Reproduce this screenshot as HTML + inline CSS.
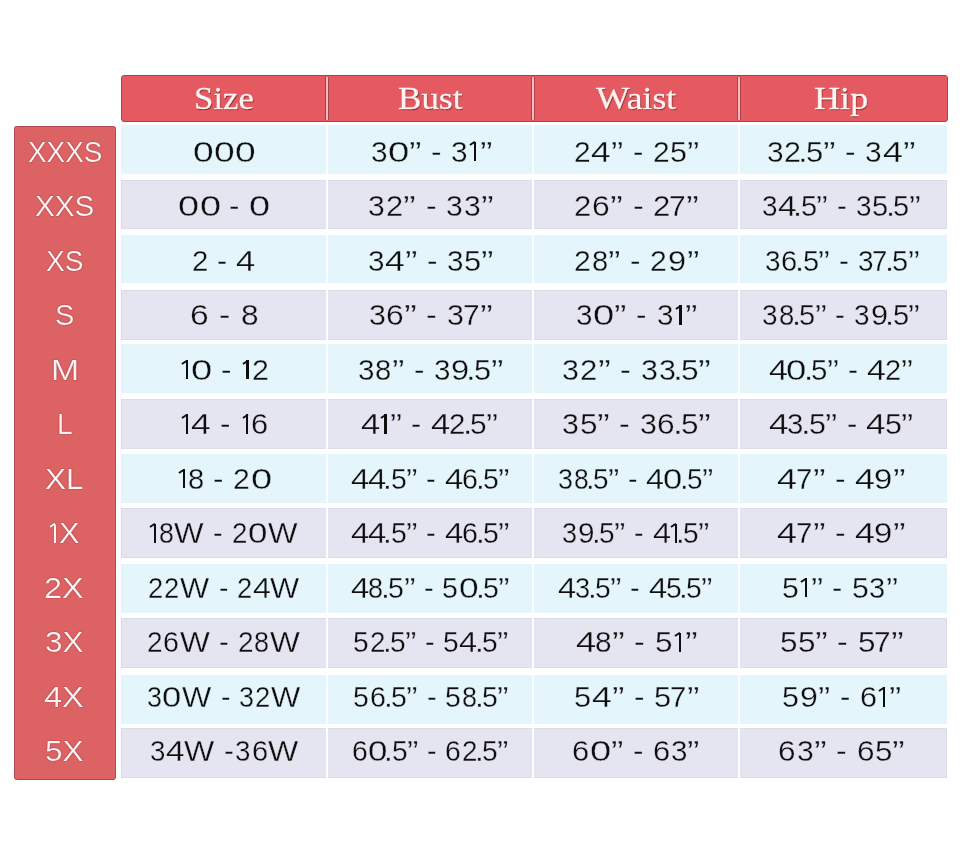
<!DOCTYPE html><html><head><meta charset="utf-8"><style>
*{margin:0;padding:0;box-sizing:border-box}
html,body{width:960px;height:864px;background:#fff;overflow:hidden}
body{position:relative;font-family:"Liberation Sans",sans-serif}
.hdr{position:absolute;left:120.8px;top:74.8px;width:826.9px;height:46.9px;background:#e45a60;border:1px solid #a8434a;border-radius:3px}
.dv{position:absolute;top:76.5px;height:43px;width:3.6px;background:#ffbcbd;border-left:1.2px solid #ad4148;border-right:1.2px solid #ad4148}
.lc{position:absolute;left:14px;top:125.6px;width:101.5px;height:654px;background:#dd6264;border:1px solid #a84a50;border-left-width:1.5px;border-radius:2.5px}
.row{position:absolute;left:120.6px;width:826.6px}
.b{background:#e5f5fc}
.gb{-webkit-text-stroke:0.3px #e5f5fc}
.gv{-webkit-text-stroke:0.3px #e5e4f1}
.v{background:#e5e4f1;box-shadow:inset 0 0 0 1px #dcdbe8}
.cd{position:absolute;width:2px;background:#fbfdff}
.x{position:absolute;white-space:nowrap;line-height:60px;height:60px;transform-origin:0 0}
.g{position:absolute;line-height:60px;height:60px;transform-origin:0 0;font-size:29.5px;color:#0e0e0e}
.o{position:absolute}
.s{position:absolute;white-space:pre;line-height:60px;height:60px;font-size:29.5px;color:#0e0e0e}
.s i{display:inline-block;font-style:normal;transform-origin:0 0;position:relative}
.s i.sp{width:0}
.s i.one{color:transparent;-webkit-text-stroke:0}
.one::before{content:"";position:absolute;left:4.25px;top:20.3px;width:2.3px;height:19.4px;background:#0e0e0e}
.one::after{content:"";position:absolute;left:0.7px;top:22.95px;width:5.9px;height:2.3px;background:#0e0e0e;transform-origin:0 50%;transform:rotate(-33.4deg)}
.lt .one::before,.lt .one::after{background:#fff5f5;height:2.1px;box-shadow:0 0 1px #8a2a30}
.lt .one::before{width:2.1px;height:19.4px}
.lt{font-size:29.5px;color:#fff5f5;-webkit-text-stroke:0.2px #dd6264;text-shadow:0 0 1px #8a2a30,0 0 1px #8a2a30}
.ht{font-family:"Liberation Serif",serif;font-size:31px;color:#fff3f3;-webkit-text-stroke:0.3px #fff3f3;text-shadow:0.6px 0.6px 0.9px #7a2026}
#w{position:absolute;left:0;top:0;width:960px;height:864px;will-change:transform}
</style></head><body><div id="w">
<div class="hdr"></div>
<div class="dv" style="left:325.30px"></div>
<div class="dv" style="left:531.40px"></div>
<div class="dv" style="left:737.10px"></div>
<div class="x ht" style="left:194.45px;top:68.70px;transform:scaleX(1.1240)">Size</div>
<div class="x ht" style="left:397.83px;top:68.70px;transform:scaleX(1.1325)">Bust</div>
<div class="x ht" style="left:595.90px;top:68.70px;transform:scaleX(1.1478)">Waist</div>
<div class="x ht" style="left:814.23px;top:68.70px;transform:scaleX(1.1659)">Hip</div>
<div class="lc"></div>
<div class="row b" style="top:125.20px;height:49.30px"></div>
<div class="cd" style="left:326px;top:125.20px;height:49.30px"></div>
<div class="cd" style="left:531.5px;top:125.20px;height:49.30px"></div>
<div class="cd" style="left:738px;top:125.20px;height:49.30px"></div>
<div class="x lt" style="left:28.16px;top:121.55px;transform:scaleX(0.9447)">XXXS</div>
<div class="s gb" style="left:193.29px;top:121.55px"><i style="width:20.79px;transform:scaleX(1.262)">0</i><i style="width:20.79px;transform:scaleX(1.262)">0</i><i style="width:20.00px;transform:scaleX(1.262)">0</i></div>
<div class="s gb" style="left:370.69px;top:121.55px"><i style="width:17.02px;transform:scaleX(1.008)">3</i><i style="width:21.19px;transform:scaleX(1.298)">0</i><i style="width:21.90px;transform:scaleX(1.269)">”</i><i class="sp"> </i><i style="width:20.37px;transform:scaleX(1.069)">-</i><i class="sp"> </i><i style="width:18.56px;transform:scaleX(1.008)">3</i><i style="width:10.25px" class="one">1</i><i style="width:20.00px;transform:scaleX(1.269)">”</i></div>
<div class="s gb" style="left:574.18px;top:121.55px"><i style="width:17.21px;transform:scaleX(1.016)">2</i><i style="width:19.97px;transform:scaleX(1.195)">4</i><i style="width:21.60px;transform:scaleX(1.252)">”</i><i class="sp"> </i><i style="width:20.07px;transform:scaleX(1.054)">-</i><i class="sp"> </i><i style="width:17.38px;transform:scaleX(1.016)">2</i><i style="width:16.33px;transform:scaleX(1.031)">5</i><i style="width:20.00px;transform:scaleX(1.252)">”</i></div>
<div class="s gb" style="left:766.69px;top:121.55px"><i style="width:17.36px;transform:scaleX(1.012)">3</i><i style="width:14.45px;transform:scaleX(1.035)">2</i><i style="width:7.96px;transform:scaleX(1.180)">.</i><i style="width:16.62px;transform:scaleX(1.050)">5</i><i style="width:21.99px;transform:scaleX(1.274)">”</i><i class="sp"> </i><i style="width:20.45px;transform:scaleX(1.073)">-</i><i class="sp"> </i><i style="width:17.18px;transform:scaleX(1.012)">3</i><i style="width:20.33px;transform:scaleX(1.216)">4</i><i style="width:20.00px;transform:scaleX(1.274)">”</i></div>
<div class="row v" style="top:179.70px;height:49.20px"></div>
<div class="cd" style="left:326px;top:179.70px;height:49.20px"></div>
<div class="cd" style="left:531.5px;top:179.70px;height:49.20px"></div>
<div class="cd" style="left:738px;top:179.70px;height:49.20px"></div>
<div class="x lt" style="left:34.99px;top:176.08px;transform:scaleX(1.0053)">XXS</div>
<div class="s gv" style="left:178.42px;top:176.08px"><i style="width:21.15px;transform:scaleX(1.284)">0</i><i style="width:29.62px;transform:scaleX(1.284)">0</i><i class="sp"> </i><i style="width:19.86px;transform:scaleX(1.057)">-</i><i class="sp"> </i><i style="width:20.00px;transform:scaleX(1.284)">0</i></div>
<div class="s gv" style="left:368.48px;top:176.08px"><i style="width:17.50px;transform:scaleX(1.020)">3</i><i style="width:17.39px;transform:scaleX(1.043)">2</i><i style="width:22.17px;transform:scaleX(1.285)">”</i><i class="sp"> </i><i style="width:20.62px;transform:scaleX(1.082)">-</i><i class="sp"> </i><i style="width:17.53px;transform:scaleX(1.020)">3</i><i style="width:17.05px;transform:scaleX(1.020)">3</i><i style="width:20.00px;transform:scaleX(1.285)">”</i></div>
<div class="s gv" style="left:574.14px;top:176.08px"><i style="width:18.04px;transform:scaleX(1.055)">2</i><i style="width:17.95px;transform:scaleX(1.079)">6</i><i style="width:22.42px;transform:scaleX(1.300)">”</i><i class="sp"> </i><i style="width:20.83px;transform:scaleX(1.094)">-</i><i class="sp"> </i><i style="width:15.91px;transform:scaleX(1.055)">2</i><i style="width:17.01px;transform:scaleX(1.016)">7</i><i style="width:20.00px;transform:scaleX(1.300)">”</i></div>
<div class="s gv" style="left:761.55px;top:176.08px"><i style="width:16.06px;transform:scaleX(0.946)">3</i><i style="width:15.88px;transform:scaleX(1.137)">4</i><i style="width:7.45px;transform:scaleX(1.104)">.</i><i style="width:15.54px;transform:scaleX(0.982)">5</i><i style="width:20.55px;transform:scaleX(1.191)">”</i><i class="sp"> </i><i style="width:19.12px;transform:scaleX(1.003)">-</i><i class="sp"> </i><i style="width:16.22px;transform:scaleX(0.946)">3</i><i style="width:13.72px;transform:scaleX(0.982)">5</i><i style="width:7.45px;transform:scaleX(1.104)">.</i><i style="width:15.54px;transform:scaleX(0.982)">5</i><i style="width:20.00px;transform:scaleX(1.191)">”</i></div>
<div class="row b" style="top:234.85px;height:48.35px"></div>
<div class="cd" style="left:326px;top:234.85px;height:48.35px"></div>
<div class="cd" style="left:531.5px;top:234.85px;height:48.35px"></div>
<div class="cd" style="left:738px;top:234.85px;height:48.35px"></div>
<div class="x lt" style="left:46.45px;top:230.61px;transform:scaleX(0.9514)">XS</div>
<div class="s gb" style="left:191.80px;top:230.61px"><i style="width:25.09px;transform:scaleX(0.997)">2</i><i class="sp"> </i><i style="width:19.51px;transform:scaleX(1.034)">-</i><i class="sp"> </i><i style="width:20.00px;transform:scaleX(1.172)">4</i></div>
<div class="s gb" style="left:367.69px;top:230.61px"><i style="width:17.07px;transform:scaleX(1.005)">3</i><i style="width:20.20px;transform:scaleX(1.209)">4</i><i style="width:21.85px;transform:scaleX(1.266)">”</i><i class="sp"> </i><i style="width:20.32px;transform:scaleX(1.066)">-</i><i class="sp"> </i><i style="width:17.24px;transform:scaleX(1.005)">3</i><i style="width:16.52px;transform:scaleX(1.044)">5</i><i style="width:20.00px;transform:scaleX(1.266)">”</i></div>
<div class="s gb" style="left:574.17px;top:230.61px"><i style="width:17.58px;transform:scaleX(1.025)">2</i><i style="width:16.52px;transform:scaleX(0.987)">8</i><i style="width:21.78px;transform:scaleX(1.263)">”</i><i class="sp"> </i><i style="width:20.24px;transform:scaleX(1.063)">-</i><i class="sp"> </i><i style="width:17.47px;transform:scaleX(1.025)">2</i><i style="width:18.87px;transform:scaleX(1.101)">9</i><i style="width:20.00px;transform:scaleX(1.263)">”</i></div>
<div class="s gb" style="left:764.60px;top:230.61px"><i style="width:16.22px;transform:scaleX(0.946)">3</i><i style="width:14.54px;transform:scaleX(0.989)">6</i><i style="width:7.45px;transform:scaleX(1.104)">.</i><i style="width:15.55px;transform:scaleX(0.982)">5</i><i style="width:20.56px;transform:scaleX(1.192)">”</i><i class="sp"> </i><i style="width:19.13px;transform:scaleX(1.004)">-</i><i class="sp"> </i><i style="width:14.27px;transform:scaleX(0.946)">3</i><i style="width:12.47px;transform:scaleX(0.932)">7</i><i style="width:7.45px;transform:scaleX(1.104)">.</i><i style="width:15.55px;transform:scaleX(0.982)">5</i><i style="width:20.00px;transform:scaleX(1.192)">”</i></div>
<div class="row v" style="top:289.90px;height:49.70px"></div>
<div class="cd" style="left:326px;top:289.90px;height:49.70px"></div>
<div class="cd" style="left:531.5px;top:289.90px;height:49.70px"></div>
<div class="cd" style="left:738px;top:289.90px;height:49.70px"></div>
<div class="x lt" style="left:54.64px;top:285.14px;transform:scaleX(0.9812)">S</div>
<div class="s gv" style="left:190.36px;top:285.14px"><i style="width:28.41px;transform:scaleX(1.139)">6</i><i class="sp"> </i><i style="width:22.04px;transform:scaleX(1.155)">-</i><i class="sp"> </i><i style="width:20.00px;transform:scaleX(1.073)">8</i></div>
<div class="s gv" style="left:368.52px;top:285.14px"><i style="width:17.64px;transform:scaleX(1.029)">3</i><i style="width:17.90px;transform:scaleX(1.076)">6</i><i style="width:22.37px;transform:scaleX(1.297)">”</i><i class="sp"> </i><i style="width:20.81px;transform:scaleX(1.092)">-</i><i class="sp"> </i><i style="width:15.52px;transform:scaleX(1.029)">3</i><i style="width:16.97px;transform:scaleX(1.014)">7</i><i style="width:20.00px;transform:scaleX(1.297)">”</i></div>
<div class="s gv" style="left:576.40px;top:285.14px"><i style="width:16.96px;transform:scaleX(1.004)">3</i><i style="width:21.11px;transform:scaleX(1.293)">0</i><i style="width:21.81px;transform:scaleX(1.264)">”</i><i class="sp"> </i><i style="width:20.29px;transform:scaleX(1.065)">-</i><i class="sp"> </i><i style="width:18.48px;transform:scaleX(1.004)">3</i><i style="width:10.22px" class="one">1</i><i style="width:20.00px;transform:scaleX(1.264)">”</i></div>
<div class="s gv" style="left:762.45px;top:285.14px"><i style="width:16.28px;transform:scaleX(0.947)">3</i><i style="width:12.98px;transform:scaleX(0.932)">8</i><i style="width:7.45px;transform:scaleX(1.104)">.</i><i style="width:15.55px;transform:scaleX(0.982)">5</i><i style="width:20.57px;transform:scaleX(1.192)">”</i><i class="sp"> </i><i style="width:19.13px;transform:scaleX(1.004)">-</i><i class="sp"> </i><i style="width:16.17px;transform:scaleX(0.947)">3</i><i style="width:14.59px;transform:scaleX(1.040)">9</i><i style="width:7.45px;transform:scaleX(1.104)">.</i><i style="width:15.55px;transform:scaleX(0.982)">5</i><i style="width:20.00px;transform:scaleX(1.192)">”</i></div>
<div class="row b" style="top:343.80px;height:49.20px"></div>
<div class="cd" style="left:326px;top:343.80px;height:49.20px"></div>
<div class="cd" style="left:531.5px;top:343.80px;height:49.20px"></div>
<div class="cd" style="left:738px;top:343.80px;height:49.20px"></div>
<div class="x lt" style="left:50.91px;top:339.67px;transform:scaleX(1.1450)">M</div>
<div class="s gb" style="left:181.63px;top:339.67px"><i style="width:9.13px" class="one">1</i><i style="width:29.86px;transform:scaleX(1.294)">0</i><i class="sp"> </i><i style="width:21.55px;transform:scaleX(1.066)">-</i><i class="sp"> </i><i style="width:9.40px" class="one">1</i><i style="width:20.00px;transform:scaleX(1.028)">2</i></div>
<div class="s gb" style="left:358.05px;top:339.67px"><i style="width:17.26px;transform:scaleX(1.003)">3</i><i style="width:16.54px;transform:scaleX(0.988)">8</i><i style="width:21.80px;transform:scaleX(1.264)">”</i><i class="sp"> </i><i style="width:20.28px;transform:scaleX(1.064)">-</i><i class="sp"> </i><i style="width:17.14px;transform:scaleX(1.003)">3</i><i style="width:15.47px;transform:scaleX(1.102)">9</i><i style="width:7.90px;transform:scaleX(1.171)">.</i><i style="width:16.49px;transform:scaleX(1.041)">5</i><i style="width:20.00px;transform:scaleX(1.264)">”</i></div>
<div class="s gb" style="left:562.37px;top:339.67px"><i style="width:17.70px;transform:scaleX(1.032)">3</i><i style="width:17.59px;transform:scaleX(1.055)">2</i><i style="width:22.42px;transform:scaleX(1.299)">”</i><i class="sp"> </i><i style="width:20.85px;transform:scaleX(1.094)">-</i><i class="sp"> </i><i style="width:17.73px;transform:scaleX(1.032)">3</i><i style="width:14.38px;transform:scaleX(1.032)">3</i><i style="width:8.12px;transform:scaleX(1.204)">.</i><i style="width:16.95px;transform:scaleX(1.071)">5</i><i style="width:20.00px;transform:scaleX(1.299)">”</i></div>
<div class="s gb" style="left:768.75px;top:339.67px"><i style="width:17.54px;transform:scaleX(1.154)">4</i><i style="width:17.53px;transform:scaleX(1.237)">0</i><i style="width:7.56px;transform:scaleX(1.120)">.</i><i style="width:15.78px;transform:scaleX(0.997)">5</i><i style="width:20.87px;transform:scaleX(1.210)">”</i><i class="sp"> </i><i style="width:19.22px;transform:scaleX(1.019)">-</i><i class="sp"> </i><i style="width:17.79px;transform:scaleX(1.154)">4</i><i style="width:16.38px;transform:scaleX(0.982)">2</i><i style="width:20.00px;transform:scaleX(1.210)">”</i></div>
<div class="row v" style="top:399.00px;height:49.75px"></div>
<div class="cd" style="left:326px;top:399.00px;height:49.75px"></div>
<div class="cd" style="left:531.5px;top:399.00px;height:49.75px"></div>
<div class="cd" style="left:738px;top:399.00px;height:49.75px"></div>
<div class="x lt" style="left:56.59px;top:394.20px;transform:scaleX(0.9571)">L</div>
<div class="s gv" style="left:181.62px;top:394.20px"><i style="width:9.20px" class="one">1</i><i style="width:29.67px;transform:scaleX(1.204)">4</i><i class="sp"> </i><i style="width:21.46px;transform:scaleX(1.062)">-</i><i class="sp"> </i><i style="width:9.36px" class="one">1</i><i style="width:20.00px;transform:scaleX(1.047)">6</i></div>
<div class="s gv" style="left:360.93px;top:394.20px"><i style="width:19.17px;transform:scaleX(1.171)">4</i><i style="width:10.02px" class="one">1</i><i style="width:21.18px;transform:scaleX(1.227)">”</i><i class="sp"> </i><i style="width:19.50px;transform:scaleX(1.034)">-</i><i class="sp"> </i><i style="width:18.06px;transform:scaleX(1.171)">4</i><i style="width:13.92px;transform:scaleX(0.997)">2</i><i style="width:7.67px;transform:scaleX(1.137)">.</i><i style="width:16.01px;transform:scaleX(1.011)">5</i><i style="width:20.00px;transform:scaleX(1.227)">”</i></div>
<div class="s gv" style="left:562.37px;top:394.20px"><i style="width:17.59px;transform:scaleX(1.026)">3</i><i style="width:16.86px;transform:scaleX(1.065)">5</i><i style="width:22.30px;transform:scaleX(1.293)">”</i><i class="sp"> </i><i style="width:20.74px;transform:scaleX(1.088)">-</i><i class="sp"> </i><i style="width:17.59px;transform:scaleX(1.026)">3</i><i style="width:15.77px;transform:scaleX(1.073)">6</i><i style="width:8.08px;transform:scaleX(1.197)">.</i><i style="width:16.86px;transform:scaleX(1.065)">5</i><i style="width:20.00px;transform:scaleX(1.293)">”</i></div>
<div class="s gv" style="left:768.71px;top:394.20px"><i style="width:18.39px;transform:scaleX(1.192)">4</i><i style="width:13.82px;transform:scaleX(0.992)">3</i><i style="width:7.81px;transform:scaleX(1.157)">.</i><i style="width:16.29px;transform:scaleX(1.029)">5</i><i style="width:21.55px;transform:scaleX(1.249)">”</i><i class="sp"> </i><i style="width:19.84px;transform:scaleX(1.052)">-</i><i class="sp"> </i><i style="width:18.36px;transform:scaleX(1.192)">4</i><i style="width:16.29px;transform:scaleX(1.029)">5</i><i style="width:20.00px;transform:scaleX(1.249)">”</i></div>
<div class="row b" style="top:454.00px;height:48.60px"></div>
<div class="cd" style="left:326px;top:454.00px;height:48.60px"></div>
<div class="cd" style="left:531.5px;top:454.00px;height:48.60px"></div>
<div class="cd" style="left:738px;top:454.00px;height:48.60px"></div>
<div class="x lt" style="left:45.23px;top:448.73px;transform:scaleX(1.0676)">XL</div>
<div class="s gb" style="left:178.61px;top:448.73px"><i style="width:9.41px" class="one">1</i><i style="width:25.19px;transform:scaleX(0.986)">8</i><i class="sp"> </i><i style="width:20.20px;transform:scaleX(1.061)">-</i><i class="sp"> </i><i style="width:17.25px;transform:scaleX(1.024)">2</i><i style="width:20.00px;transform:scaleX(1.289)">0</i></div>
<div class="s gb" style="left:350.94px;top:448.73px"><i style="width:16.98px;transform:scaleX(1.112)">4</i><i style="width:15.54px;transform:scaleX(1.112)">4</i><i style="width:7.28px;transform:scaleX(1.080)">.</i><i style="width:15.21px;transform:scaleX(0.961)">5</i><i style="width:20.11px;transform:scaleX(1.166)">”</i><i class="sp"> </i><i style="width:18.52px;transform:scaleX(0.982)">-</i><i class="sp"> </i><i style="width:17.13px;transform:scaleX(1.112)">4</i><i style="width:14.22px;transform:scaleX(0.968)">6</i><i style="width:7.28px;transform:scaleX(1.080)">.</i><i style="width:15.21px;transform:scaleX(0.961)">5</i><i style="width:20.00px;transform:scaleX(1.166)">”</i></div>
<div class="s gb" style="left:558.14px;top:448.73px"><i style="width:15.65px;transform:scaleX(0.910)">3</i><i style="width:12.48px;transform:scaleX(0.896)">8</i><i style="width:7.16px;transform:scaleX(1.061)">.</i><i style="width:14.95px;transform:scaleX(0.944)">5</i><i style="width:19.77px;transform:scaleX(1.146)">”</i><i class="sp"> </i><i style="width:18.21px;transform:scaleX(0.965)">-</i><i class="sp"> </i><i style="width:16.62px;transform:scaleX(1.094)">4</i><i style="width:16.61px;transform:scaleX(1.172)">0</i><i style="width:7.16px;transform:scaleX(1.061)">.</i><i style="width:14.95px;transform:scaleX(0.944)">5</i><i style="width:20.00px;transform:scaleX(1.146)">”</i></div>
<div class="s gb" style="left:777.48px;top:448.73px"><i style="width:18.81px;transform:scaleX(1.218)">4</i><i style="width:16.70px;transform:scaleX(0.998)">7</i><i style="width:22.01px;transform:scaleX(1.276)">”</i><i class="sp"> </i><i style="width:20.27px;transform:scaleX(1.074)">-</i><i class="sp"> </i><i style="width:18.69px;transform:scaleX(1.218)">4</i><i style="width:19.07px;transform:scaleX(1.113)">9</i><i style="width:20.00px;transform:scaleX(1.276)">”</i></div>
<div class="row v" style="top:508.10px;height:49.60px"></div>
<div class="cd" style="left:326px;top:508.10px;height:49.60px"></div>
<div class="cd" style="left:531.5px;top:508.10px;height:49.60px"></div>
<div class="cd" style="left:738px;top:508.10px;height:49.60px"></div>
<div class="x lt" style="left:49.6px;top:503.26px;white-space:pre"><i class="one" style="display:inline-block;position:relative;font-style:normal;width:9.36px;color:transparent;-webkit-text-stroke:0;text-shadow:none">1</i><i style="display:inline-block;font-style:normal;transform-origin:0 0;transform:scaleX(1.0444)">X</i></div>
<div class="s gv" style="left:149.81px;top:503.26px"><i style="width:8.93px" class="one">1</i><i style="width:15.24px;transform:scaleX(0.905)">8</i><i style="width:39.29px;transform:scaleX(1.062)">W</i><i class="sp"> </i><i style="width:18.56px;transform:scaleX(0.975)">-</i><i class="sp"> </i><i style="width:15.84px;transform:scaleX(0.940)">2</i><i style="width:20.19px;transform:scaleX(1.184)">0</i><i style="width:20.00px;transform:scaleX(1.062)">W</i></div>
<div class="s gv" style="left:350.94px;top:503.26px"><i style="width:16.98px;transform:scaleX(1.112)">4</i><i style="width:15.54px;transform:scaleX(1.112)">4</i><i style="width:7.28px;transform:scaleX(1.080)">.</i><i style="width:15.21px;transform:scaleX(0.961)">5</i><i style="width:20.11px;transform:scaleX(1.166)">”</i><i class="sp"> </i><i style="width:18.52px;transform:scaleX(0.982)">-</i><i class="sp"> </i><i style="width:17.13px;transform:scaleX(1.112)">4</i><i style="width:14.22px;transform:scaleX(0.968)">6</i><i style="width:7.28px;transform:scaleX(1.080)">.</i><i style="width:15.21px;transform:scaleX(0.961)">5</i><i style="width:20.00px;transform:scaleX(1.166)">”</i></div>
<div class="s gv" style="left:562.49px;top:503.26px"><i style="width:15.62px;transform:scaleX(0.915)">3</i><i style="width:14.10px;transform:scaleX(1.005)">9</i><i style="width:7.20px;transform:scaleX(1.067)">.</i><i style="width:15.03px;transform:scaleX(0.949)">5</i><i style="width:19.87px;transform:scaleX(1.152)">”</i><i class="sp"> </i><i style="width:18.30px;transform:scaleX(0.970)">-</i><i class="sp"> </i><i style="width:17.78px;transform:scaleX(1.099)">4</i><i style="width:5.92px" class="one">1</i><i style="width:7.20px;transform:scaleX(1.067)">.</i><i style="width:15.03px;transform:scaleX(0.949)">5</i><i style="width:20.00px;transform:scaleX(1.152)">”</i></div>
<div class="s gv" style="left:777.48px;top:503.26px"><i style="width:18.81px;transform:scaleX(1.218)">4</i><i style="width:16.70px;transform:scaleX(0.998)">7</i><i style="width:22.01px;transform:scaleX(1.276)">”</i><i class="sp"> </i><i style="width:20.27px;transform:scaleX(1.074)">-</i><i class="sp"> </i><i style="width:18.69px;transform:scaleX(1.218)">4</i><i style="width:19.07px;transform:scaleX(1.113)">9</i><i style="width:20.00px;transform:scaleX(1.276)">”</i></div>
<div class="row b" style="top:563.70px;height:49.20px"></div>
<div class="cd" style="left:326px;top:563.70px;height:49.20px"></div>
<div class="cd" style="left:531.5px;top:563.70px;height:49.20px"></div>
<div class="cd" style="left:738px;top:563.70px;height:49.20px"></div>
<div class="x lt" style="left:44.10px;top:557.79px;transform:scaleX(1.1000)">2X</div>
<div class="s gb" style="left:148.12px;top:557.79px"><i style="width:15.86px;transform:scaleX(0.927)">2</i><i style="width:16.02px;transform:scaleX(0.927)">2</i><i style="width:38.75px;transform:scaleX(1.047)">W</i><i class="sp"> </i><i style="width:18.30px;transform:scaleX(0.961)">-</i><i class="sp"> </i><i style="width:15.70px;transform:scaleX(0.927)">2</i><i style="width:17.72px;transform:scaleX(1.090)">4</i><i style="width:20.00px;transform:scaleX(1.047)">W</i></div>
<div class="s gb" style="left:350.93px;top:557.79px"><i style="width:17.27px;transform:scaleX(1.118)">4</i><i style="width:12.75px;transform:scaleX(0.916)">8</i><i style="width:7.32px;transform:scaleX(1.085)">.</i><i style="width:15.28px;transform:scaleX(0.965)">5</i><i style="width:20.21px;transform:scaleX(1.171)">”</i><i class="sp"> </i><i style="width:18.76px;transform:scaleX(0.986)">-</i><i class="sp"> </i><i style="width:16.24px;transform:scaleX(0.965)">5</i><i style="width:16.98px;transform:scaleX(1.198)">0</i><i style="width:7.32px;transform:scaleX(1.085)">.</i><i style="width:15.28px;transform:scaleX(0.965)">5</i><i style="width:20.00px;transform:scaleX(1.171)">”</i></div>
<div class="s gb" style="left:557.94px;top:557.79px"><i style="width:17.09px;transform:scaleX(1.108)">4</i><i style="width:12.84px;transform:scaleX(0.921)">3</i><i style="width:7.25px;transform:scaleX(1.075)">.</i><i style="width:15.14px;transform:scaleX(0.956)">5</i><i style="width:20.02px;transform:scaleX(1.161)">”</i><i class="sp"> </i><i style="width:18.44px;transform:scaleX(0.977)">-</i><i class="sp"> </i><i style="width:17.06px;transform:scaleX(1.108)">4</i><i style="width:13.37px;transform:scaleX(0.956)">5</i><i style="width:7.25px;transform:scaleX(1.075)">.</i><i style="width:15.14px;transform:scaleX(0.956)">5</i><i style="width:20.00px;transform:scaleX(1.161)">”</i></div>
<div class="s gb" style="left:782.03px;top:557.79px"><i style="width:18.60px;transform:scaleX(1.021)">5</i><i style="width:10.09px" class="one">1</i><i style="width:21.38px;transform:scaleX(1.239)">”</i><i class="sp"> </i><i style="width:19.85px;transform:scaleX(1.043)">-</i><i class="sp"> </i><i style="width:17.46px;transform:scaleX(1.021)">5</i><i style="width:16.44px;transform:scaleX(0.984)">3</i><i style="width:20.00px;transform:scaleX(1.239)">”</i></div>
<div class="row v" style="top:618.00px;height:49.80px"></div>
<div class="cd" style="left:326px;top:618.00px;height:49.80px"></div>
<div class="cd" style="left:531.5px;top:618.00px;height:49.80px"></div>
<div class="cd" style="left:738px;top:618.00px;height:49.80px"></div>
<div class="x lt" style="left:45.23px;top:612.32px;transform:scaleX(1.0676)">3X</div>
<div class="s gv" style="left:146.75px;top:612.32px"><i style="width:16.22px;transform:scaleX(0.949)">2</i><i style="width:16.72px;transform:scaleX(0.970)">6</i><i style="width:39.67px;transform:scaleX(1.072)">W</i><i class="sp"> </i><i style="width:18.74px;transform:scaleX(0.984)">-</i><i class="sp"> </i><i style="width:16.28px;transform:scaleX(0.949)">2</i><i style="width:15.39px;transform:scaleX(0.914)">8</i><i style="width:20.00px;transform:scaleX(1.072)">W</i></div>
<div class="s gv" style="left:353.25px;top:612.32px"><i style="width:16.27px;transform:scaleX(0.952)">5</i><i style="width:13.11px;transform:scaleX(0.939)">2</i><i style="width:7.22px;transform:scaleX(1.071)">.</i><i style="width:15.08px;transform:scaleX(0.952)">5</i><i style="width:19.94px;transform:scaleX(1.156)">”</i><i class="sp"> </i><i style="width:18.51px;transform:scaleX(0.973)">-</i><i class="sp"> </i><i style="width:16.10px;transform:scaleX(0.952)">5</i><i style="width:15.41px;transform:scaleX(1.103)">4</i><i style="width:7.22px;transform:scaleX(1.071)">.</i><i style="width:15.08px;transform:scaleX(0.952)">5</i><i style="width:20.00px;transform:scaleX(1.156)">”</i></div>
<div class="s gv" style="left:576.17px;top:612.32px"><i style="width:19.05px;transform:scaleX(1.233)">4</i><i style="width:16.91px;transform:scaleX(1.010)">8</i><i style="width:22.29px;transform:scaleX(1.292)">”</i><i class="sp"> </i><i style="width:20.70px;transform:scaleX(1.088)">-</i><i class="sp"> </i><i style="width:19.54px;transform:scaleX(1.065)">5</i><i style="width:10.37px" class="one">1</i><i style="width:20.00px;transform:scaleX(1.292)">”</i></div>
<div class="s gv" style="left:779.84px;top:612.32px"><i style="width:18.15px;transform:scaleX(1.064)">5</i><i style="width:16.84px;transform:scaleX(1.064)">5</i><i style="width:22.27px;transform:scaleX(1.291)">”</i><i class="sp"> </i><i style="width:20.67px;transform:scaleX(1.087)">-</i><i class="sp"> </i><i style="width:16.03px;transform:scaleX(1.064)">5</i><i style="width:16.89px;transform:scaleX(1.009)">7</i><i style="width:20.00px;transform:scaleX(1.291)">”</i></div>
<div class="row b" style="top:675.00px;height:49.10px"></div>
<div class="cd" style="left:326px;top:675.00px;height:49.10px"></div>
<div class="cd" style="left:531.5px;top:675.00px;height:49.10px"></div>
<div class="cd" style="left:738px;top:675.00px;height:49.10px"></div>
<div class="x lt" style="left:44.00px;top:666.85px;transform:scaleX(1.1029)">4X</div>
<div class="s gb" style="left:146.79px;top:666.85px"><i style="width:15.38px;transform:scaleX(0.910)">3</i><i style="width:20.00px;transform:scaleX(1.173)">0</i><i style="width:38.91px;transform:scaleX(1.052)">W</i><i class="sp"> </i><i style="width:18.40px;transform:scaleX(0.966)">-</i><i class="sp"> </i><i style="width:15.62px;transform:scaleX(0.910)">3</i><i style="width:16.09px;transform:scaleX(0.931)">2</i><i style="width:20.00px;transform:scaleX(1.052)">W</i></div>
<div class="s gb" style="left:353.24px;top:666.85px"><i style="width:16.43px;transform:scaleX(0.963)">5</i><i style="width:14.25px;transform:scaleX(0.970)">6</i><i style="width:7.30px;transform:scaleX(1.082)">.</i><i style="width:15.24px;transform:scaleX(0.963)">5</i><i style="width:20.16px;transform:scaleX(1.168)">”</i><i class="sp"> </i><i style="width:18.72px;transform:scaleX(0.984)">-</i><i class="sp"> </i><i style="width:16.48px;transform:scaleX(0.963)">5</i><i style="width:12.72px;transform:scaleX(0.914)">8</i><i style="width:7.30px;transform:scaleX(1.082)">.</i><i style="width:15.24px;transform:scaleX(0.963)">5</i><i style="width:20.00px;transform:scaleX(1.168)">”</i></div>
<div class="s gb" style="left:574.16px;top:666.85px"><i style="width:17.67px;transform:scaleX(1.045)">5</i><i style="width:20.23px;transform:scaleX(1.210)">4</i><i style="width:21.88px;transform:scaleX(1.268)">”</i><i class="sp"> </i><i style="width:20.31px;transform:scaleX(1.068)">-</i><i class="sp"> </i><i style="width:15.75px;transform:scaleX(1.045)">5</i><i style="width:16.60px;transform:scaleX(0.992)">7</i><i style="width:20.00px;transform:scaleX(1.268)">”</i></div>
<div class="s gb" style="left:782.02px;top:666.85px"><i style="width:17.52px;transform:scaleX(1.030)">5</i><i style="width:18.68px;transform:scaleX(1.090)">9</i><i style="width:21.57px;transform:scaleX(1.250)">”</i><i class="sp"> </i><i style="width:20.01px;transform:scaleX(1.053)">-</i><i class="sp"> </i><i style="width:18.91px;transform:scaleX(1.038)">6</i><i style="width:10.14px" class="one">1</i><i style="width:20.00px;transform:scaleX(1.250)">”</i></div>
<div class="row v" style="top:728.00px;height:49.50px"></div>
<div class="cd" style="left:326px;top:728.00px;height:49.50px"></div>
<div class="cd" style="left:531.5px;top:728.00px;height:49.50px"></div>
<div class="cd" style="left:738px;top:728.00px;height:49.50px"></div>
<div class="x lt" style="left:45.23px;top:721.38px;transform:scaleX(1.0676)">5X</div>
<div class="s gv" style="left:149.86px;top:721.38px"><i style="width:15.97px;transform:scaleX(0.940)">3</i><i style="width:18.38px;transform:scaleX(1.130)">4</i><i style="width:40.19px;transform:scaleX(1.086)">W</i><i class="sp"> </i><i style="width:11.03px;transform:scaleX(0.997)">-</i><i style="width:16.11px;transform:scaleX(0.940)">3</i><i style="width:16.94px;transform:scaleX(0.983)">6</i><i style="width:20.00px;transform:scaleX(1.086)">W</i></div>
<div class="s gv" style="left:351.54px;top:721.38px"><i style="width:16.15px;transform:scaleX(0.961)">6</i><i style="width:16.78px;transform:scaleX(1.184)">0</i><i style="width:7.23px;transform:scaleX(1.072)">.</i><i style="width:15.10px;transform:scaleX(0.954)">5</i><i style="width:19.97px;transform:scaleX(1.158)">”</i><i class="sp"> </i><i style="width:18.54px;transform:scaleX(0.975)">-</i><i class="sp"> </i><i style="width:16.40px;transform:scaleX(0.961)">6</i><i style="width:13.13px;transform:scaleX(0.940)">2</i><i style="width:7.23px;transform:scaleX(1.072)">.</i><i style="width:15.10px;transform:scaleX(0.954)">5</i><i style="width:20.00px;transform:scaleX(1.158)">”</i></div>
<div class="s gv" style="left:572.00px;top:721.38px"><i style="width:17.63px;transform:scaleX(1.049)">6</i><i style="width:21.09px;transform:scaleX(1.292)">0</i><i style="width:21.80px;transform:scaleX(1.263)">”</i><i class="sp"> </i><i style="width:20.23px;transform:scaleX(1.064)">-</i><i class="sp"> </i><i style="width:17.92px;transform:scaleX(1.049)">6</i><i style="width:16.76px;transform:scaleX(1.003)">3</i><i style="width:20.00px;transform:scaleX(1.263)">”</i></div>
<div class="s gv" style="left:778.48px;top:721.38px"><i style="width:18.25px;transform:scaleX(1.068)">6</i><i style="width:17.07px;transform:scaleX(1.021)">3</i><i style="width:22.19px;transform:scaleX(1.286)">”</i><i class="sp"> </i><i style="width:20.60px;transform:scaleX(1.083)">-</i><i class="sp"> </i><i style="width:18.21px;transform:scaleX(1.068)">6</i><i style="width:16.78px;transform:scaleX(1.060)">5</i><i style="width:20.00px;transform:scaleX(1.286)">”</i></div>
</div></body></html>
